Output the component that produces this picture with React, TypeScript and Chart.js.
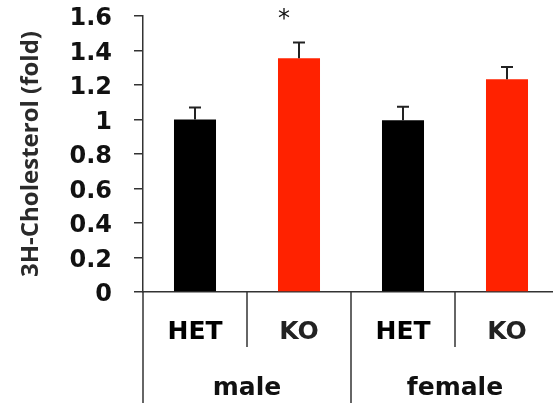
import React, { useEffect, useRef } from "react";
import { Chart, registerables } from "chart.js";

Chart.register(...registerables);

const categories = ["HET", "KO", "HET", "KO"];
const groups = ["male", "female"];
const groupSize = 2;
const values = [1.0, 1.355, 0.995, 1.233];
const errors = [0.07, 0.092, 0.079, 0.071];
const significance = ["", "*", "", ""];
const barColors = ["#000000", "#ff2200", "#000000", "#ff2200"];
const yMin = 0;
const yMax = 1.6;
const yStep = 0.2;
const yTitle = "3H-Cholesterol (fold)";

const overlay = {
  id: "overlay",
  afterDatasetsDraw(chart: any) {
    const ctx = chart.ctx;
    const y = chart.scales.y;
    const meta = chart.getDatasetMeta(0);
    ctx.save();
    meta.data.forEach((bar: any, i: number) => {
      const cx = bar.x;
      const base = y.getPixelForValue(values[i]);
      const top = y.getPixelForValue(values[i] + errors[i]);
      ctx.strokeStyle = "#222";
      ctx.lineWidth = 2;
      ctx.beginPath();
      ctx.moveTo(cx, base);
      ctx.lineTo(cx, top);
      ctx.moveTo(cx - 6, top);
      ctx.lineTo(cx + 6, top);
      ctx.stroke();
      if (significance[i]) {
        ctx.fillStyle = "#111";
        ctx.font = '24px "DejaVu Sans"';
        ctx.textAlign = "center";
        ctx.textBaseline = "middle";
        ctx.fillText(significance[i], cx - 15, top - 23);
      }
    });
    ctx.restore();
  },
  afterDraw(chart: any) {
    const ctx = chart.ctx;
    const x = chart.scales.x;
    const top = x.top;
    ctx.save();
    ctx.strokeStyle = "#333";
    ctx.lineWidth = 1.5;
    for (let i = 0; i <= categories.length; i++) {
      const px = Math.round(x.getPixelForValue(i - 0.5));
      const isGroupEdge = i % groupSize === 0;
      ctx.beginPath();
      ctx.moveTo(px, top);
      ctx.lineTo(px, top + (isGroupEdge ? 111 : 55));
      ctx.stroke();
    }
    ctx.fillStyle = "#111";
    ctx.font = 'bold 25px "DejaVu Sans"';
    ctx.textAlign = "center";
    ctx.textBaseline = "middle";
    groups.forEach((g, gi) => {
      const mid = gi * groupSize + (groupSize - 1) / 2;
      ctx.fillText(g, x.getPixelForValue(mid), top + 96);
    });
    ctx.restore();
  },
};

export default function App() {
  const ref = useRef<HTMLCanvasElement | null>(null);
  useEffect(() => {
    if (!ref.current) return;
    const chart = new Chart(ref.current, {
      type: "bar",
      data: {
        labels: categories,
        datasets: [
          {
            data: values,
            backgroundColor: barColors,
            borderWidth: 0,
            categoryPercentage: 1,
            barPercentage: 0.404,
          },
        ],
      },
      options: {
        responsive: false,
        animation: false,
        devicePixelRatio: 1,
        layout: { padding: { top: 16, right: 7, left: 0, bottom: 0 } },
        plugins: { legend: { display: false }, tooltip: { enabled: false } },
        scales: {
          x: {
            offset: true,
            grid: { display: false, drawTicks: false },
            border: { display: true, color: "#333", width: 1.5 },
            ticks: {
              padding: 25,
              maxRotation: 0,
              autoSkip: false,
              font: { family: "DejaVu Sans", weight: "bold", size: 25 },
              color: (c: any) => (c.index % 2 === 0 ? "#000" : "#222"),
            },
            afterFit: (s: any) => {
              s.height = 115;
            },
          },
          y: {
            min: yMin,
            max: yMax,
            ticks: {
              stepSize: yStep,
              padding: 22,
              labelOffset: 3,
              color: "#111",
              font: { family: "DejaVu Sans", weight: "bold", size: 24 },
              callback: (v: any) => String(Number(Number(v).toFixed(1))),
            },
            grid: {
              drawOnChartArea: false,
              drawTicks: true,
              tickLength: 9,
              color: "#333",
              lineWidth: 1.5,
            },
            border: { display: true, color: "#333", width: 1.5 },
            title: {
              display: true,
              text: yTitle,
              color: "#2a2a2a",
              font: { family: "Open Sans", weight: "bold", size: 24 },
              padding: { top: 17, bottom: 0 },
            },
            afterFit: (s: any) => {
              s.width = 143;
              s.paddingTop = 0;
              s.paddingBottom = 0;
            },
          },
        },
      },
      plugins: [overlay],
    });
    return () => chart.destroy();
  }, []);
  return (
    <div
      style={{
        position: "absolute",
        left: 0,
        top: 0,
        width: 553,
        height: 407,
        overflow: "hidden",
        background: "#fff",
      }}
    >
      <canvas ref={ref} width={566} height={407} style={{ display: "block" }} />
    </div>
  );
}
